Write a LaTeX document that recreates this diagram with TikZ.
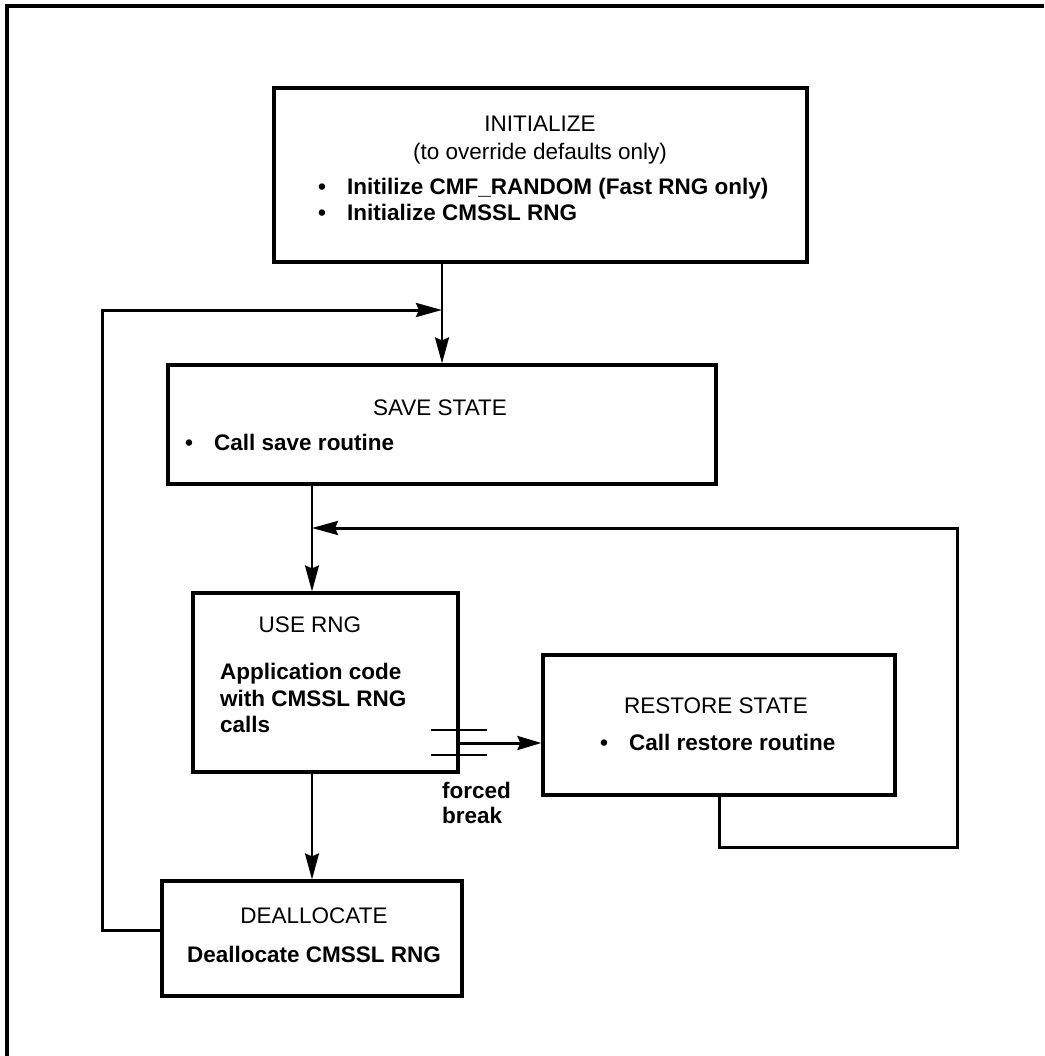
\documentclass[tikz,border=0pt]{standalone}
\usepackage{fontspec}
\setmainfont{Liberation Sans}
\usetikzlibrary{arrows.meta,calc}

\newcommand{\bul}{\makebox[29pt][l]{\textbullet}}

\begin{document}
\begin{tikzpicture}[x=1pt, y=-1pt, >={Stealth[length=26pt,width=14pt,inset=3pt]},
  every node/.style={font=\fontsize{22.5}{26.5}\selectfont, inner sep=0pt},
  box/.style={draw, line width=3.2pt},
  head/.style={anchor=base},
  item/.style={anchor=base west, font=\fontsize{22.5}{26.5}\selectfont\bfseries},
  link/.style={->, line width=2.2pt},
  loop/.style={->, line width=3pt}]

  \useasboundingbox (0,0) rectangle (1044,1056);

  % Page frame (cut at right and bottom)
  \draw[line width=3.4pt] (1044,6) -- (7,6) -- (7,1056);

  % Initialize
  \node[box, minimum width=533pt, minimum height=174pt] (init) at (540.5,175) {};
  \node[head] (initT) at (540,132) {INITIALIZE};
  \node[head] (initS) at (540,160) {(to override defaults only)};
  \node[item] (initA) at (318,195) {\bul Initilize CMF\_RANDOM (Fast RNG only)};
  \node[item] (initB) at (318,221) {\bul Initialize CMSSL RNG};

  % Save state
  \node[box, minimum width=548pt, minimum height=119pt] (save) at (442,424.5) {};
  \node[head] (saveT) at (440,415) {SAVE STATE};
  \node[item] (saveA) at (185,450) {\bul Call save routine};

  % Use RNG
  \node[box, minimum width=265pt, minimum height=179pt] (use) at (325.5,682.5) {};
  \node[head] (useT) at (310,632) {USE RNG};
  \node[item] (useA) at (220,679) {Application code};
  \node[item] (useB) at (220,706) {with CMSSL RNG};
  \node[item] (useC) at (220,732) {calls};

  % Restore state
  \node[box, minimum width=352pt, minimum height=140pt] (restore) at (719,725) {};
  \node[head] (restoreT) at (716,713) {RESTORE STATE};
  \node[item] (restoreA) at (600,750) {\bul Call restore routine};

  % Deallocate
  \node[box, minimum width=300pt, minimum height=115pt] (dealloc) at (312,938.5) {};
  \node[head] (deallocT) at (314,923) {DEALLOCATE};
  \node[head, font=\fontsize{22.5}{26.5}\selectfont\bfseries] (deallocA) at (314,962) {Deallocate CMSSL RNG};

  % Main flow
  \draw[link] (init.south -| save.north) -- (save.north);
  \draw[link] (save.south -| dealloc.north) -- (use.north -| dealloc.north);
  \draw[link] (use.south -| dealloc.north) -- (dealloc.north);

  % Back to save state
  \coordinate (loopL) at (102,310);
  \draw[loop] ([yshift=8.5pt]dealloc.west) -| (loopL) -- (loopL -| save.north);

  % Forced break
  \coordinate (brk) at (500,743);
  \draw[loop, >={Stealth[length=24pt,width=14pt,inset=3pt]}] (brk -| use.east) -- (brk -| restore.west);
  \draw[line width=2.6pt] ($(brk -| use.east)+(-29,-13)$) -- ++(56,0);
  \draw[line width=2.6pt] ($(brk -| use.east)+(-29,12)$) -- ++(56,0);
  \node[item] (forcedA) at (442,798) {forced};
  \node[item] (forcedB) at (442,823) {break};

  % Back to use RNG
  \coordinate (loopB) at (957,847);
  \coordinate (loopR) at (957,528);
  \draw[loop] (restore.south) |- (loopB) -- (loopR) -- (loopR -| dealloc.north);
\end{tikzpicture}
\end{document}
